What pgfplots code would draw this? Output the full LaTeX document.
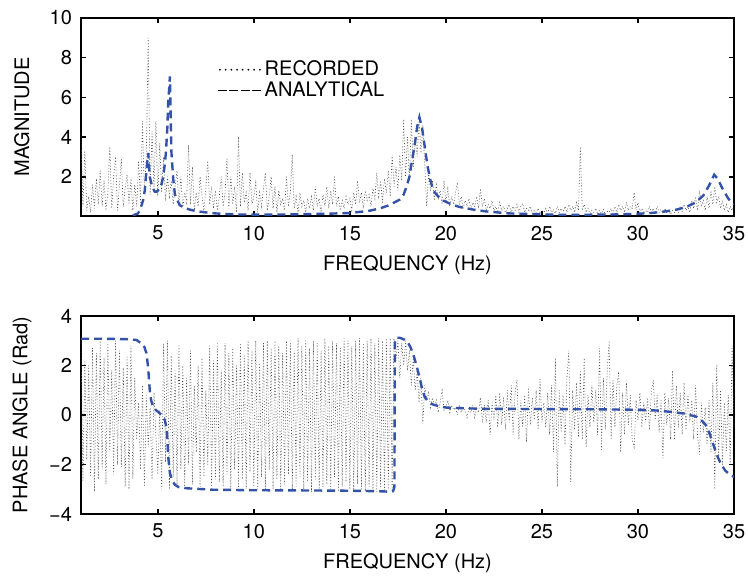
\documentclass[border=0pt]{standalone}
\usepackage{pgfplots}
\pgfplotsset{compat=1.18}
\usepackage{fontspec}
\setmainfont{TeX Gyre Heros}
\definecolor{anablue}{RGB}{52,82,168}
\pgfplotsset{
  frfstyle/.style={
    scale only axis, width=326.5pt, height=99pt,
    xmin=1, xmax=35,
    xtick={5,10,15,20,25,30,35}, xticklabels={5,10,15,20,25,30,35},
    tick align=inside, major tick length=2.6pt,
    axis line style={line width=0.8pt},
    every tick/.style={black, line width=0.8pt},
    ticklabel style={font=\fontsize{10}{12}\selectfont},
    xticklabel style={yshift=-1.5pt},
    yticklabel style={xshift=-1pt},
    label style={font=\fontsize{10}{12}\selectfont},
    xlabel={FREQUENCY (Hz)},
    xlabel style={at={(axis description cs:0.5,-0.25)}, anchor=center},
    ylabel style={at={(axis description cs:-0.0905,0.5)}, anchor=center},
    clip=true,
  },
  recstyle/.style={black!70, line width=0.3pt, dash pattern=on 0.45pt off 1pt},
  anastyle/.style={anablue, line width=1.2pt, dash pattern=on 4pt off 2.5pt},
}
\begin{document}
\begin{tikzpicture}
\useasboundingbox (-40.5pt,-180pt) rectangle (333.5pt,108pt);
\begin{axis}[frfstyle, at={(0pt,0pt)}, anchor=south west,
  ymin=0.02, ymax=10, ytick={2,4,6,8,10}, yticklabels={2,4,6,8,10},
  ylabel={MAGNITUDE},
  legend style={at={(axis description cs:0.208,0.79)}, anchor=north west,
    draw=none, fill=none, inner sep=0pt, row sep=0.5pt,
    font=\fontsize{10}{12}\selectfont,
    nodes={inner sep=0.4pt}},
  legend cell align=left]
\addplot[recstyle, legend image code/.code={\draw[black, line width=1pt, line cap=round, dash pattern=on 0pt off 2.85pt] (1pt,0pt) -- (22.5pt,0pt);}]
 table[row sep=\\]{x y\\
1.0 4.2\\ 1.1 0.5\\ 1.2 3.3\\ 1.3 0.3\\ 1.4 1.0\\ 1.5 0.2\\ 1.6 1.6\\ 1.7 0.4\\ 1.8 1.9\\ 1.9 0.6\\
2.0 2.3\\ 2.1 0.5\\ 2.2 1.8\\ 2.3 0.3\\ 2.4 1.2\\ 2.5 3.5\\ 2.6 0.4\\ 2.7 2.0\\ 2.8 3.0\\ 2.9 0.3\\
3.0 1.5\\ 3.1 2.9\\ 3.2 0.5\\ 3.3 1.4\\ 3.4 2.1\\ 3.5 0.6\\ 3.6 1.9\\ 3.7 0.3\\ 3.8 1.6\\ 3.9 0.5\\
4.0 2.8\\ 4.1 0.7\\ 4.2 4.8\\ 4.3 1.2\\ 4.4 3.0\\ 4.5 9.0\\ 4.6 1.1\\ 4.7 4.3\\ 4.8 1.5\\ 4.9 4.8\\
5.0 1.0\\ 5.1 3.7\\ 5.2 1.2\\ 5.3 3.0\\ 5.4 0.8\\ 5.5 2.0\\ 5.6 1.0\\ 5.7 1.8\\ 5.8 0.6\\ 5.9 1.5\\
6.0 2.3\\ 6.1 0.5\\ 6.2 2.0\\ 6.3 0.4\\ 6.4 1.2\\ 6.5 0.7\\ 6.6 3.6\\ 6.7 0.6\\ 6.8 2.5\\ 6.9 0.3\\
7.0 1.2\\ 7.1 0.5\\ 7.2 2.0\\ 7.3 1.0\\ 7.4 0.3\\ 7.5 1.4\\ 7.6 2.8\\ 7.7 0.6\\ 7.8 1.5\\ 7.9 0.4\\
8.0 1.3\\ 8.1 0.3\\ 8.2 1.0\\ 8.3 2.0\\ 8.4 0.5\\ 8.5 1.2\\ 8.6 2.9\\ 8.7 0.4\\ 8.8 2.0\\ 8.9 0.6\\
9.0 1.5\\ 9.1 0.2\\ 9.2 4.0\\ 9.3 0.5\\ 9.4 2.2\\ 9.5 0.7\\ 9.6 1.2\\ 9.7 0.3\\ 9.8 2.2\\ 9.9 0.6\\
10.0 1.0\\ 10.1 1.7\\ 10.2 0.2\\ 10.3 1.2\\ 10.4 0.5\\ 10.5 1.4\\ 10.6 2.2\\ 10.7 0.3\\ 10.8 1.0\\ 10.9 2.0\\
11.0 0.4\\ 11.1 1.5\\ 11.2 0.2\\ 11.3 1.3\\ 11.4 0.6\\ 11.5 0.9\\ 11.6 0.3\\ 11.7 2.0\\ 11.8 0.5\\ 11.9 1.2\\
12.0 3.1\\ 12.1 0.4\\ 12.2 1.0\\ 12.3 0.2\\ 12.4 1.2\\ 12.5 0.5\\ 12.6 0.8\\ 12.7 0.2\\ 12.8 0.9\\ 12.9 0.4\\
13.0 1.0\\ 13.1 0.3\\ 13.2 1.5\\ 13.3 0.5\\ 13.4 0.9\\ 13.5 0.2\\ 13.6 1.1\\ 13.7 0.5\\ 13.8 1.5\\ 13.9 0.4\\
14.0 1.3\\ 14.1 0.6\\ 14.2 2.0\\ 14.3 0.5\\ 14.4 1.0\\ 14.5 0.3\\ 14.6 0.8\\ 14.7 0.4\\ 14.8 1.0\\ 14.9 0.6\\
15.0 0.9\\ 15.1 0.3\\ 15.2 1.2\\ 15.3 0.6\\ 15.4 1.8\\ 15.5 0.7\\ 15.6 1.2\\ 15.7 0.4\\ 15.8 1.3\\ 15.9 0.8\\
16.0 1.1\\ 16.1 0.5\\ 16.2 1.4\\ 16.3 0.9\\ 16.4 2.2\\ 16.5 1.0\\ 16.6 1.8\\ 16.7 0.7\\ 16.8 1.9\\ 16.9 1.2\\
17.0 2.3\\ 17.1 1.0\\ 17.2 3.1\\ 17.3 1.5\\ 17.4 2.5\\ 17.5 1.3\\ 17.6 3.1\\ 17.7 1.8\\ 17.8 4.9\\ 17.9 2.0\\
18.0 4.0\\ 18.1 1.8\\ 18.2 4.9\\ 18.3 2.5\\ 18.4 4.0\\ 18.5 3.0\\ 18.6 4.9\\ 18.7 3.2\\ 18.8 4.6\\ 18.9 2.5\\
19.0 0.5\\ 19.1 2.2\\ 19.2 1.3\\ 19.3 1.8\\ 19.4 0.8\\ 19.5 1.6\\ 19.6 0.9\\ 19.7 1.3\\ 19.8 0.6\\ 19.9 1.8\\
20.0 0.7\\ 20.1 1.4\\ 20.2 0.5\\ 20.3 1.0\\ 20.4 0.6\\ 20.5 1.2\\ 20.6 1.7\\ 20.7 0.6\\ 20.8 1.0\\ 20.9 0.4\\
21.0 0.8\\ 21.1 0.5\\ 21.2 0.9\\ 21.3 0.3\\ 21.4 0.7\\ 21.5 0.5\\ 21.6 1.0\\ 21.7 0.4\\ 21.8 1.4\\ 21.9 0.5\\
22.0 0.9\\ 22.1 0.3\\ 22.2 0.6\\ 22.3 0.4\\ 22.4 0.8\\ 22.5 0.3\\ 22.6 0.5\\ 22.7 0.2\\ 22.8 0.7\\ 22.9 0.3\\
23.0 0.5\\ 23.1 0.2\\ 23.2 0.4\\ 23.3 0.6\\ 23.4 0.2\\ 23.5 0.5\\ 23.6 0.3\\ 23.7 0.6\\ 23.8 0.2\\ 23.9 0.5\\
24.0 0.65\\ 24.1 0.2\\ 24.2 0.4\\ 24.3 0.3\\ 24.4 0.5\\ 24.5 0.15\\ 24.6 0.3\\ 24.7 0.2\\ 24.8 0.4\\ 24.9 0.15\\
25.0 0.3\\ 25.1 0.2\\ 25.2 0.4\\ 25.3 0.15\\ 25.4 0.5\\ 25.5 0.2\\ 25.6 0.35\\ 25.7 0.15\\ 25.8 0.5\\ 25.9 0.2\\
26.0 0.4\\ 26.1 0.25\\ 26.2 0.5\\ 26.3 0.2\\ 26.4 0.6\\ 26.5 0.3\\ 26.6 0.5\\ 26.7 0.2\\ 26.8 0.7\\ 26.9 0.3\\
27.0 3.5\\ 27.1 0.3\\ 27.2 0.6\\ 27.3 0.2\\ 27.4 0.4\\ 27.5 0.15\\ 27.6 0.3\\ 27.7 0.2\\ 27.8 0.4\\ 27.9 0.1\\
28.0 0.3\\ 28.1 0.15\\ 28.2 0.35\\ 28.3 0.1\\ 28.4 0.25\\ 28.5 0.2\\ 28.6 0.4\\ 28.7 0.15\\ 28.8 0.5\\ 28.9 0.2\\
29.0 0.6\\ 29.1 0.3\\ 29.2 0.5\\ 29.3 0.2\\ 29.4 0.7\\ 29.5 0.3\\ 29.6 0.5\\ 29.7 0.4\\ 29.8 1.2\\ 29.9 0.3\\
30.0 0.7\\ 30.1 0.2\\ 30.2 0.4\\ 30.3 0.15\\ 30.4 0.3\\ 30.5 0.2\\ 30.6 0.5\\ 30.7 0.2\\ 30.8 0.4\\ 30.9 0.15\\
31.0 0.5\\ 31.1 0.2\\ 31.2 0.35\\ 31.3 0.15\\ 31.4 0.4\\ 31.5 0.2\\ 31.6 0.3\\ 31.7 0.1\\ 31.8 0.3\\ 31.9 0.2\\
32.0 0.4\\ 32.1 0.2\\ 32.2 0.5\\ 32.3 0.25\\ 32.4 0.6\\ 32.5 0.3\\ 32.6 0.5\\ 32.7 0.2\\ 32.8 0.8\\ 32.9 0.4\\
33.0 1.0\\ 33.1 0.3\\ 33.2 1.3\\ 33.3 0.5\\ 33.4 0.8\\ 33.5 0.3\\ 33.6 1.0\\ 33.7 0.4\\ 33.8 1.3\\ 33.9 0.6\\
34.0 1.5\\ 34.1 0.7\\ 34.2 1.0\\ 34.3 0.4\\ 34.4 0.8\\ 34.5 0.3\\ 34.6 0.6\\ 34.7 0.2\\ 34.8 0.5\\ 34.9 0.3\\
35.0 0.5\\};
\addlegendentry{RECORDED}
\addplot[anastyle, legend image code/.code={\draw[black, line width=0.7pt, dash pattern=on 4.4pt off 1.3pt] (0pt,0pt) -- (22.5pt,0pt);}]
 table[row sep=\\]{x y\\
3.7 0.05\\ 3.97 0.15\\ 4.1 0.4\\ 4.23 0.8\\ 4.32 1.3\\ 4.4 2.2\\ 4.5 3.2\\ 4.58 2.0\\ 4.7 1.5\\ 4.84 1.25\\
4.95 1.25\\ 5.1 1.4\\ 5.2 1.65\\ 5.28 2.0\\ 5.36 2.6\\ 5.42 3.2\\ 5.49 4.35\\ 5.54 5.7\\ 5.63 7.05\\ 5.67 5.0\\
5.71 3.2\\ 5.8 1.9\\ 5.89 1.1\\ 6.0 0.85\\ 6.15 0.56\\ 6.4 0.42\\ 6.67 0.34\\ 7.0 0.26\\ 7.5 0.2\\ 8.0 0.15\\
9.0 0.1\\ 10.0 0.09\\ 11.0 0.09\\ 12.0 0.1\\ 13.0 0.12\\ 14.0 0.14\\ 15.0 0.17\\ 16.0 0.28\\ 16.56 0.4\\ 17.0 0.55\\
17.35 0.72\\ 17.6 0.85\\ 17.8 1.1\\ 17.95 1.5\\ 18.1 2.0\\ 18.25 2.9\\ 18.39 3.7\\ 18.5 4.5\\ 18.62 5.0\\ 18.75 4.5\\
18.9 3.5\\ 19.05 2.5\\ 19.2 1.8\\ 19.34 1.3\\ 19.6 1.0\\ 19.86 0.8\\ 20.3 0.6\\ 20.73 0.47\\ 21.5 0.33\\ 22.1 0.25\\
23.3 0.15\\ 25.0 0.1\\ 26.0 0.08\\ 27.0 0.08\\ 28.0 0.09\\ 29.0 0.1\\ 30.0 0.13\\ 30.5 0.16\\ 31.0 0.2\\ 31.5 0.26\\
32.0 0.34\\ 32.5 0.47\\ 33.0 0.7\\ 33.4 1.05\\ 33.7 1.55\\ 33.97 2.1\\ 34.15 1.9\\ 34.4 1.4\\ 34.7 0.9\\ 35.0 0.6\\};
\addlegendentry{ANALYTICAL}
\end{axis}

\begin{axis}[frfstyle, at={(0pt,-50pt)}, anchor=north west,
  ymin=-4, ymax=4, ytick={-4,-2,0,2,4}, yticklabels={−4,−2,0,2,4},
  ylabel={PHASE ANGLE (Rad)}]
\addplot[recstyle] table[row sep=\\]{x y\\
1.0 2.9\\ 1.1 -2.7\\ 1.2 2.2\\ 1.3 -1.8\\ 1.4 2.0\\ 1.5 -2.5\\ 1.6 2.7\\ 1.7 -3.1\\ 1.8 2.5\\ 1.9 -2.6\\
2.0 3.0\\ 2.1 -2.2\\ 2.2 2.3\\ 2.3 -2.8\\ 2.4 2.9\\ 2.5 -1.5\\ 2.6 1.8\\ 2.7 -2.4\\ 2.8 3.0\\ 2.9 -2.0\\
3.0 2.6\\ 3.1 -2.1\\ 3.2 1.9\\ 3.3 -2.9\\ 3.4 2.4\\ 3.5 -3.0\\ 3.6 2.8\\ 3.7 -2.6\\ 3.8 1.5\\ 3.9 -1.0\\
4.0 0.5\\ 4.1 -2.2\\ 4.2 1.2\\ 4.3 -2.9\\ 4.4 0.8\\ 4.5 -1.3\\ 4.6 0.3\\ 4.7 -2.6\\ 4.8 0.9\\ 4.9 -0.8\\
5.0 -2.4\\ 5.1 0.2\\ 5.2 -3.0\\ 5.3 2.9\\ 5.4 -1.9\\ 5.5 3.0\\ 5.6 -3.0\\ 5.7 2.4\\ 5.8 -2.5\\ 5.9 1.8\\
6.0 -2.8\\ 6.1 2.8\\ 6.2 -2.2\\ 6.3 2.0\\ 6.4 -2.9\\ 6.5 1.5\\ 6.6 -2.0\\ 6.7 2.6\\ 6.8 -2.8\\ 6.9 1.2\\
7.0 -1.5\\ 7.1 2.0\\ 7.2 -2.9\\ 7.3 2.3\\ 7.4 -2.5\\ 7.5 1.0\\ 7.6 -2.0\\ 7.7 2.8\\ 7.8 -2.9\\ 7.9 2.2\\
8.0 -2.6\\ 8.1 2.9\\ 8.2 -2.7\\ 8.3 1.8\\ 8.4 -2.9\\ 8.5 2.9\\ 8.6 -2.4\\ 8.7 2.5\\ 8.8 -3.0\\ 8.9 2.7\\
9.0 -2.2\\ 9.1 2.0\\ 9.2 -2.9\\ 9.3 2.9\\ 9.4 -2.6\\ 9.5 2.4\\ 9.6 -3.0\\ 9.7 3.0\\ 9.8 -2.3\\ 9.9 2.6\\
10.0 -2.9\\ 10.1 3.0\\ 10.2 -3.0\\ 10.3 2.1\\ 10.4 -2.5\\ 10.5 2.9\\ 10.6 -3.0\\ 10.7 3.0\\ 10.8 -2.2\\ 10.9 2.7\\
11.0 -3.0\\ 11.1 3.0\\ 11.2 -2.6\\ 11.3 2.8\\ 11.4 -3.0\\ 11.5 2.5\\ 11.6 -2.8\\ 11.7 3.0\\ 11.8 -2.4\\ 11.9 2.9\\
12.0 -3.0\\ 12.1 2.6\\ 12.2 -2.9\\ 12.3 3.1\\ 12.4 -2.5\\ 12.5 2.8\\ 12.6 -3.0\\ 12.7 3.0\\ 12.8 -2.7\\ 12.9 2.7\\
13.0 -3.1\\ 13.1 3.0\\ 13.2 -2.6\\ 13.3 2.9\\ 13.4 -3.0\\ 13.5 2.6\\ 13.6 -2.9\\ 13.7 3.1\\ 13.8 -2.8\\ 13.9 2.8\\
14.0 -3.0\\ 14.1 3.0\\ 14.2 -2.5\\ 14.3 2.9\\ 14.4 -3.1\\ 14.5 2.7\\ 14.6 -2.9\\ 14.7 3.1\\ 14.8 -2.7\\ 14.9 3.0\\
15.0 -3.0\\ 15.1 2.8\\ 15.2 -3.1\\ 15.3 3.0\\ 15.4 -2.8\\ 15.5 3.1\\ 15.6 -3.0\\ 15.7 2.9\\ 15.8 -3.1\\ 15.9 3.0\\
16.0 -2.9\\ 16.1 3.1\\ 16.2 -3.0\\ 16.3 2.9\\ 16.4 -3.1\\ 16.5 3.1\\ 16.6 -2.9\\ 16.7 3.0\\ 16.8 -3.1\\ 16.9 3.1\\
17.0 -3.0\\ 17.1 3.1\\ 17.2 -3.1\\ 17.3 3.1\\ 17.4 2.2\\ 17.5 3.0\\ 17.6 1.5\\ 17.7 2.9\\ 17.8 2.0\\ 17.9 3.0\\
18.0 1.8\\ 18.1 2.6\\ 18.2 1.2\\ 18.3 2.3\\ 18.4 1.0\\ 18.5 1.8\\ 18.6 0.5\\ 18.7 1.5\\ 18.8 -0.34\\ 18.9 1.2\\
19.0 0.6\\ 19.1 0.9\\ 19.2 0.3\\ 19.3 0.7\\ 19.4 0.4\\ 19.5 0.6\\ 19.6 0.1\\ 19.7 0.5\\ 19.8 1.0\\ 19.9 0.2\\
20.0 0.3\\ 20.1 0.6\\ 20.2 0.1\\ 20.3 0.4\\ 20.4 0.2\\ 20.5 0.3\\ 20.6 0.0\\ 20.7 0.4\\ 20.8 0.1\\ 20.9 0.3\\
21.0 0.2\\ 21.1 -0.1\\ 21.2 0.3\\ 21.3 0.1\\ 21.4 0.4\\ 21.5 -0.1\\ 21.6 0.3\\ 21.7 0.1\\ 21.8 0.7\\ 21.9 -0.3\\
22.0 0.4\\ 22.1 -0.3\\ 22.2 0.6\\ 22.3 -0.8\\ 22.4 0.5\\ 22.5 -0.2\\ 22.6 0.8\\ 22.7 -0.5\\ 22.8 0.9\\ 22.9 -0.4\\
23.0 0.7\\ 23.1 -0.6\\ 23.2 1.0\\ 23.3 -0.3\\ 23.4 1.2\\ 23.5 -0.8\\ 23.6 0.9\\ 23.7 1.4\\ 23.8 -1.0\\ 23.9 0.6\\
24.0 -0.5\\ 24.1 0.8\\ 24.2 -1.1\\ 24.3 1.1\\ 24.4 -0.4\\ 24.5 0.7\\ 24.6 -0.2\\ 24.7 1.0\\ 24.8 -0.6\\ 24.9 1.45\\
25.0 -0.3\\ 25.1 0.5\\ 25.2 -0.5\\ 25.3 0.9\\ 25.4 -0.8\\ 25.5 1.2\\ 25.6 -1.5\\ 25.7 2.3\\ 25.8 -2.9\\ 25.9 1.0\\
26.0 -0.7\\ 26.1 0.8\\ 26.2 -1.2\\ 26.3 1.5\\ 26.4 2.6\\ 26.5 -2.7\\ 26.6 1.0\\ 26.7 -0.6\\ 26.8 1.3\\ 26.9 -0.9\\
27.0 1.8\\ 27.1 -1.0\\ 27.2 2.3\\ 27.3 -1.3\\ 27.4 0.8\\ 27.5 -0.5\\ 27.6 1.2\\ 27.7 -0.3\\ 27.8 1.0\\ 27.9 -0.8\\
28.0 2.7\\ 28.1 -1.4\\ 28.2 1.5\\ 28.3 -0.6\\ 28.4 1.8\\ 28.5 3.0\\ 28.6 -1.0\\ 28.7 1.4\\ 28.8 -0.5\\ 28.9 1.2\\
29.0 1.75\\ 29.1 -1.5\\ 29.2 0.9\\ 29.3 -0.8\\ 29.4 1.3\\ 29.5 -0.4\\ 29.6 0.8\\ 29.7 -1.0\\ 29.8 -1.3\\ 29.9 0.6\\
30.0 -0.2\\ 30.1 0.9\\ 30.2 -0.5\\ 30.3 0.5\\ 30.4 -0.3\\ 30.5 0.7\\ 30.6 -0.6\\ 30.7 1.0\\ 30.8 1.4\\ 30.9 -0.2\\
31.0 0.8\\ 31.1 -0.7\\ 31.2 0.6\\ 31.3 -1.75\\ 31.4 0.9\\ 31.5 -0.4\\ 31.6 0.7\\ 31.7 -1.0\\ 31.8 1.8\\ 31.9 -1.0\\
32.0 1.2\\ 32.1 -0.5\\ 32.2 0.9\\ 32.3 -0.8\\ 32.4 1.3\\ 32.5 -0.6\\ 32.6 0.8\\ 32.7 -0.3\\ 32.8 0.6\\ 32.9 -1.0\\
33.0 1.2\\ 33.1 -0.8\\ 33.2 -1.6\\ 33.3 0.5\\ 33.4 -0.7\\ 33.5 0.3\\ 33.6 -1.2\\ 33.7 0.6\\ 33.8 -1.5\\ 33.9 1.3\\
34.0 -3.0\\ 34.1 2.0\\ 34.2 -1.8\\ 34.3 1.0\\ 34.4 -2.0\\ 34.5 0.5\\ 34.6 -1.5\\ 34.7 0.8\\ 34.8 -2.0\\ 34.9 2.8\\
35.0 -0.5\\};
\addplot[anastyle] table[row sep=\\]{x y\\
1.0 3.08\\ 2.0 3.08\\ 3.0 3.07\\ 3.5 3.06\\ 3.89 3.03\\ 4.15 2.89\\ 4.3 2.75\\ 4.41 2.49\\ 4.5 1.88\\ 4.58 1.0\\
4.65 0.6\\ 4.75 0.34\\ 4.9 0.2\\ 5.1 0.07\\ 5.25 -0.05\\ 5.36 -0.2\\ 5.45 -0.5\\ 5.49 -0.87\\ 5.54 -1.68\\ 5.63 -2.35\\
5.75 -2.65\\ 5.89 -2.82\\ 6.1 -2.92\\ 6.49 -2.96\\ 7.88 -3.02\\ 10.0 -3.04\\ 13.0 -3.05\\ 15.0 -3.06\\ 16.5 -3.08\\ 17.1 -3.1\\
17.25 -3.08\\ 17.32 -2.9\\ 17.34 2.9\\ 17.4 3.12\\ 17.6 3.12\\ 17.8 3.06\\ 18.0 2.95\\ 18.15 2.75\\ 18.3 2.45\\ 18.45 2.05\\
18.6 1.6\\ 18.75 1.1\\ 18.9 0.72\\ 19.1 0.52\\ 19.34 0.42\\ 19.7 0.34\\ 20.03 0.3\\ 21.0 0.27\\ 22.0 0.25\\ 25.0 0.24\\
28.0 0.23\\ 30.0 0.21\\ 31.0 0.18\\ 31.67 0.13\\ 32.4 0.06\\ 33.05 -0.07\\ 33.35 -0.25\\ 33.6 -0.47\\ 33.9 -1.14\\ 34.1 -1.6\\
34.3 -1.95\\ 34.55 -2.25\\ 34.8 -2.42\\ 35.0 -2.5\\};
\end{axis}
\end{tikzpicture}
\end{document}
